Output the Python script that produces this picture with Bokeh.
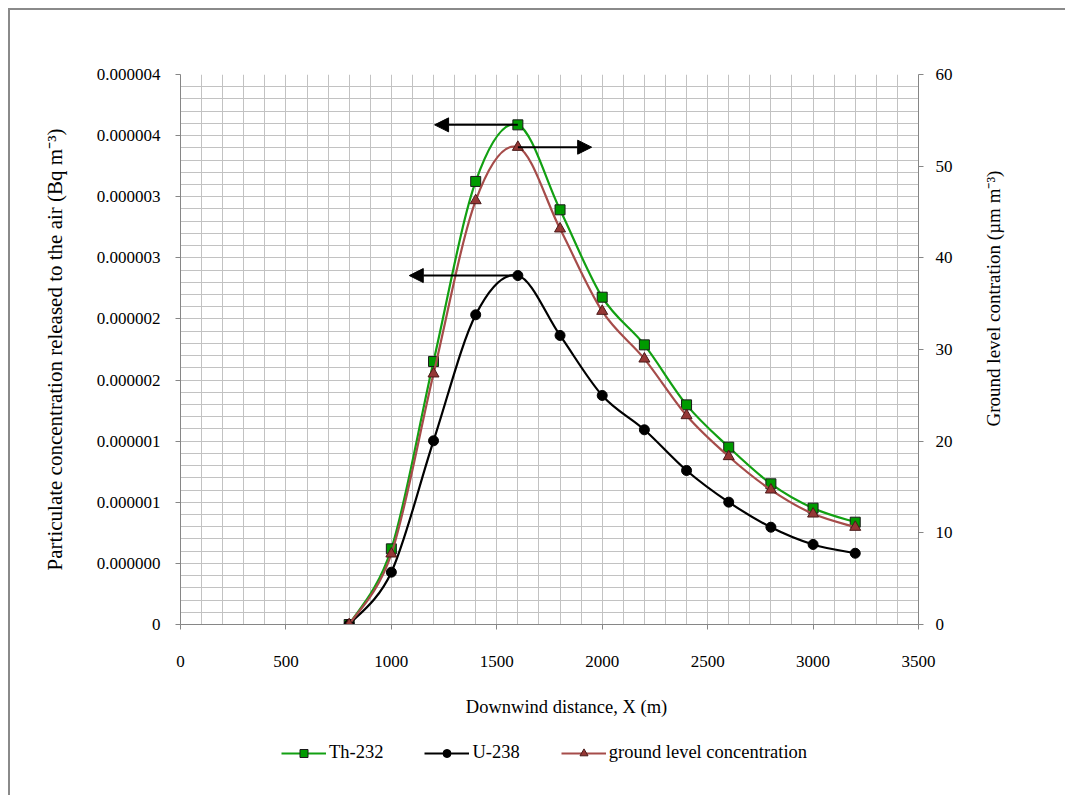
import numpy as np
from bokeh.plotting import figure
from bokeh.layouts import column, row
from bokeh.models import (Range1d, LinearAxis, FixedTicker, CustomJSTickFormatter,
                          Legend, LegendItem, Arrow, NormalHead, Label)
from bokeh.embed import file_html
from bokeh.resources import INLINE

# ---------------- data ----------------
distance = [800, 1000, 1200, 1400, 1600, 1800, 2000, 2200, 2400, 2600, 2800, 3000, 3200]
th232 = [0.0, 0.619e-6, 2.152e-6, 3.625e-6, 4.088e-6, 3.393e-6, 2.678e-6, 2.288e-6,
         1.797e-6, 1.451e-6, 1.151e-6, 0.952e-6, 0.837e-6]
u238 = [0.0, 0.428e-6, 1.503e-6, 2.534e-6, 2.855e-6, 2.365e-6, 1.874e-6, 1.593e-6,
        1.260e-6, 1.001e-6, 0.796e-6, 0.655e-6, 0.583e-6]
ground = [0.0, 7.71, 27.35, 46.25, 52.07, 43.17, 34.18, 28.98, 22.80, 18.33, 14.69, 12.07, 10.62]

x_ticks = [0, 500, 1000, 1500, 2000, 2500, 3000, 3500]
left_ticks = [0, 0.5e-6, 1.0e-6, 1.5e-6, 2.0e-6, 2.5e-6, 3.0e-6, 3.5e-6, 4.0e-6, 4.5e-6]
left_tick_labels = ["0", "0.000000", "0.000001", "0.000001", "0.000002", "0.000002",
                    "0.000003", "0.000003", "0.000004", "0.000004"]
right_ticks = [0, 10, 20, 30, 40, 50, 60]

x_title = "Downwind distance, X (m)"
left_title = "Particulate concentration released to the air (Bq m\u207b\u00b3)"
right_title = "Ground level contration (\u00b5m m\u207b\u00b3)"
series_names = ["Th-232", "U-238", "ground level concentration"]

# annotation arrows (end x in data units)
arrow_th_end_x = 1205
arrow_u_end_x = 1085
arrow_ground_end_x = 1950

FONT = "Liberation Serif"
AXIS_GRAY = "#868686"
GRID_GRAY = "#c2c2c2"
TICK_FS = "17px"
TITLE_FS = "18.5px"

TH_LINE = "#12a012"
TH_FILL = "#009a00"
U_COLOR = "#000000"
GR_LINE = "#a64c4a"
GR_FILL = "#953735"


def bezier_controls(xs, ys):
    X = np.asarray(xs, float)
    Y = np.asarray(ys, float)
    n = len(X)
    out = dict(x0=[], y0=[], x1=[], y1=[], cx0=[], cy0=[], cx1=[], cy1=[])
    for i in range(n - 1):
        ip = max(i - 1, 0)
        inx = min(i + 2, n - 1)
        out["x0"].append(X[i]); out["y0"].append(Y[i])
        out["x1"].append(X[i + 1]); out["y1"].append(Y[i + 1])
        out["cx0"].append(X[i] + (X[i + 1] - X[ip]) / 6.0)
        out["cy0"].append(Y[i] + (Y[i + 1] - Y[ip]) / 6.0)
        out["cx1"].append(X[i + 1] - (X[inx] - X[i]) / 6.0)
        out["cy1"].append(Y[i + 1] - (Y[inx] - Y[i]) / 6.0)
    return out


bth = bezier_controls(distance, th232)
bu = bezier_controls(distance, u238)
bg = bezier_controls(distance, ground)
BZ = dict(x0="x0", y0="y0", x1="x1", y1="y1", cx0="cx0", cy0="cy0", cx1="cx1", cy1="cy1")

# ---------------- main plot (canvas origin at page (10, 10)) ----------------
p = figure(width=955, height=670, output_backend="svg", toolbar_location=None,
           x_range=Range1d(0, 3500), y_range=Range1d(0, 4.5e-6),
           min_border_left=170, min_border_right=47, min_border_top=64,
           min_border_bottom=56)
p.extra_y_ranges = {"right": Range1d(0, 60)}
p.outline_line_color = None
p.background_fill_color = "white"
p.border_fill_color = "white"

p.xgrid.ticker = FixedTicker(ticks=list(range(0, 3501, 100)))
p.ygrid.ticker = FixedTicker(ticks=[i * 0.1e-6 for i in range(46)])
for g in (p.xgrid, p.ygrid):
    g.grid_line_color = GRID_GRAY
    g.grid_line_width = 1


def style_axis(ax, standoff, title_standoff=0, title_fs=TITLE_FS):
    ax.axis_line_color = AXIS_GRAY
    ax.major_tick_line_color = AXIS_GRAY
    ax.major_tick_out = 5
    ax.major_tick_in = 0
    ax.minor_tick_line_color = None
    ax.major_label_text_font = FONT
    ax.major_label_text_font_size = TICK_FS
    ax.major_label_text_color = "black"
    ax.major_label_standoff = standoff
    ax.axis_label_text_font = FONT
    ax.axis_label_text_font_size = title_fs
    ax.axis_label_text_font_style = "normal"
    ax.axis_label_text_color = "black"
    ax.axis_label_standoff = title_standoff


xa = p.xaxis[0]
xa.ticker = FixedTicker(ticks=x_ticks)
style_axis(xa, 26)

ya = p.yaxis[0]
ya.ticker = FixedTicker(ticks=left_ticks)
ya.formatter = CustomJSTickFormatter(args=dict(labels=left_tick_labels),
                                     code="return labels[index];")
ya.axis_label = left_title
style_axis(ya, 15, 27, "21px")

ra = LinearAxis(y_range_name="right", ticker=FixedTicker(ticks=right_ticks))
style_axis(ra, 12)
p.add_layout(ra, "right")

r_th_l = p.bezier(source=bth, **BZ, line_color=TH_LINE, line_width=2.2)
r_th_m = p.scatter(distance, th232, marker="square", size=10, fill_color=TH_FILL,
                   line_color="#1a1a1a", line_width=1)
r_u_l = p.bezier(source=bu, **BZ, line_color=U_COLOR, line_width=2.2)
r_u_m = p.scatter(distance, u238, marker="circle", size=10, fill_color="black",
                  line_color="black")
r_g_l = p.bezier(source=bg, **BZ, line_color=GR_LINE, line_width=2.2, y_range_name="right")
r_g_m = p.scatter(distance, ground, marker="triangle", size=11, fill_color=GR_FILL,
                  line_color="#4a1a19", line_width=1, y_range_name="right")

peak = int(np.argmax(th232))
p.add_layout(Arrow(end=NormalHead(size=14, fill_color="black", line_color="black"),
                   x_start=distance[peak], y_start=th232[peak],
                   x_end=arrow_th_end_x, y_end=th232[peak],
                   line_color="black", line_width=2))
peak_u = int(np.argmax(u238))
p.add_layout(Arrow(end=NormalHead(size=14, fill_color="black", line_color="black"),
                   x_start=distance[peak_u], y_start=u238[peak_u],
                   x_end=arrow_u_end_x, y_end=u238[peak_u],
                   line_color="black", line_width=2))
peak_g = int(np.argmax(ground))
p.add_layout(Arrow(end=NormalHead(size=14, fill_color="black", line_color="black"),
                   x_start=distance[peak_g], y_start=ground[peak_g],
                   x_end=arrow_ground_end_x, y_end=ground[peak_g],
                   line_color="black", line_width=2, y_range_name="right"))


def blank_fig(w, h):
    f = figure(width=w, height=h, output_backend="svg", toolbar_location=None,
               x_range=Range1d(0, 1), y_range=Range1d(0, 1),
               x_axis_location=None, y_axis_location=None, min_border=0)
    f.outline_line_color = None
    f.grid.visible = False
    f.background_fill_color = "white"
    f.border_fill_color = "white"
    return f


# ---------------- right title strip ----------------
# (the row aligns this strip's frame with the main plot's frame: bottom at canvas y 614)
rfig = blank_fig(100, 670)
rfig.add_layout(Label(x=28, y=326, x_units="screen", y_units="screen",
                      text=right_title, angle=np.pi / 2,
                      text_align="center", text_baseline="middle",
                      text_font=FONT, text_font_size="19px", text_color="black"))

# ---------------- bottom strip: x title + legend ----------------
bfig = blank_fig(1055, 115)
bfig.add_layout(Label(x=556, y=89, x_units="screen", y_units="screen",
                      text=x_title, text_align="center", text_baseline="middle",
                      text_font=FONT, text_font_size=TITLE_FS, text_color="black"))

# legend proxies (same series; they fall outside this strip's range, so only the key shows)
l_th_l = bfig.bezier(source=bth, **BZ, line_color=TH_LINE, line_width=2.2)
l_th_m = bfig.scatter(distance, th232, marker="square", size=10, fill_color=TH_FILL,
                      line_color="#1a1a1a", line_width=1)
l_u_l = bfig.bezier(source=bu, **BZ, line_color=U_COLOR, line_width=2.2)
l_u_m = bfig.scatter(distance, u238, marker="circle", size=10, fill_color="black",
                     line_color="black")
l_g_l = bfig.bezier(source=bg, **BZ, line_color=GR_LINE, line_width=2.2)
l_g_m = bfig.scatter(distance, ground, marker="triangle", size=11, fill_color=GR_FILL,
                     line_color="#4a1a19", line_width=1)

legend = Legend(items=[
    LegendItem(label=series_names[0], renderers=[l_th_l, l_th_m]),
    LegendItem(label=series_names[1], renderers=[l_u_l, l_u_m]),
    LegendItem(label=series_names[2], renderers=[l_g_l, l_g_m]),
], orientation="horizontal", location=(271, 32))
legend.label_text_font = FONT
legend.label_text_font_size = TITLE_FS
legend.label_text_color = "black"
legend.glyph_width = 45
legend.glyph_height = 20
legend.label_standoff = 3
legend.spacing = 41
legend.margin = 0
legend.padding = 5
legend.border_line_color = None
legend.background_fill_alpha = 0
bfig.add_layout(legend, "center")

layout = column(row(p, rfig), bfig)
layout.styles = {"margin-left": "8px", "margin-top": "8px",
                 "border-top": "2px solid #8a8a8a", "border-left": "2px solid #8a8a8a"}

open("out.html", "w").write(file_html(layout, INLINE))
